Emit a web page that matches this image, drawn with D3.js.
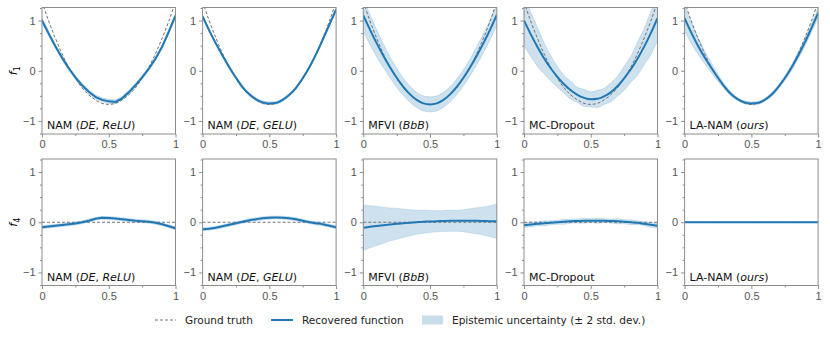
<!DOCTYPE html>
<html>
<head>
<meta charset="utf-8">
<script src="https://cdn.jsdelivr.net/npm/d3@7"></script>
<style>
  body { margin: 0; background: #fff; }
  svg { font-family: 'DejaVu Sans', sans-serif; }
  .spine { fill: none; stroke: #8c8c8c; stroke-width: 1; }
  .tick line { stroke: #8c8c8c; }
  .tick text { fill: #555; font-size: 11px; }
  .domain { display: none; }
  .path-truth { fill: none; stroke: #707070; stroke-width: 1; stroke-dasharray: 3,2; }
  .path-mean { fill: none; stroke: #1f77b4; stroke-width: 2; }
  .path-band { fill: #1f77b4; fill-opacity: 0.22; stroke: #1f77b4; stroke-opacity: 0.2; stroke-width: 0.8; }
  .panel-label { font-size: 11px; fill: #111; }
  .legend-text { font-size: 10.5px; fill: #222; }
</style>
</head>
<body>
<div id="chart"></div>
<script>
// Sample positions shared by every curve
const xGrid = [0, 0.05, 0.1, 0.15, 0.2, 0.25, 0.3, 0.35, 0.4, 0.45, 0.5, 0.55, 0.6, 0.65, 0.7, 0.75, 0.8, 0.85, 0.9, 0.95, 1]

// Method names as [text, italic] pieces
const methods = [
  [['NAM (', false], ['DE', true], [', ', false], ['ReLU', true], [')', false]],
  [['NAM (', false], ['DE', true], [', ', false], ['GELU', true], [')', false]],
  [['MFVI (', false], ['BbB', true], [')', false]],
  [['MC-Dropout', false]],
  [['LA-NAM (', false], ['ours', true], [')', false]]
]
const rowLabels = ['1', '4']
const xTicks = [0, 0.5, 1]
const yTicks = [-1, 0, 1]

// Ground truth shape functions
const truthF1 = [1.38, 0.99, 0.65, 0.34, 0.07, -0.15, -0.34, -0.48, -0.58, -0.65, -0.67, -0.65, -0.58, -0.48, -0.34, -0.15, 0.07, 0.34, 0.65, 0.99, 1.38]
const truthF4 = [0, 0, 0, 0, 0, 0, 0, 0, 0, 0, 0, 0, 0, 0, 0, 0, 0, 0, 0, 0, 0]

// Recovered f1, one array per method
const meanF1ReLU = [1.0, 0.74, 0.49, 0.26, 0.05, -0.13, -0.29, -0.42, -0.52, -0.58, -0.61, -0.62, -0.55, -0.43, -0.29, -0.13, 0.04, 0.24, 0.48, 0.78, 1.1]
const meanF1GELU = [1.08, 0.8, 0.54, 0.3, 0.07, -0.14, -0.33, -0.47, -0.57, -0.63, -0.65, -0.64, -0.58, -0.48, -0.34, -0.15, 0.07, 0.33, 0.62, 0.92, 1.22]
const meanF1MFVI = [1.1, 0.82, 0.55, 0.3, 0.07, -0.14, -0.32, -0.47, -0.58, -0.65, -0.67, -0.65, -0.58, -0.47, -0.32, -0.14, 0.07, 0.3, 0.55, 0.82, 1.11]
const meanF1Drop = [1.0, 0.73, 0.48, 0.25, 0.05, -0.12, -0.27, -0.39, -0.48, -0.54, -0.57, -0.56, -0.51, -0.43, -0.31, -0.15, 0.03, 0.24, 0.48, 0.75, 1.05]
const meanF1LA = [1.05, 0.76, 0.5, 0.27, 0.06, -0.14, -0.32, -0.47, -0.57, -0.63, -0.65, -0.64, -0.58, -0.48, -0.33, -0.15, 0.06, 0.3, 0.56, 0.85, 1.15]

// Half width of the +-2 std. dev. band for f1
const bandF1ReLU = [0.05, 0.05, 0.04, 0.04, 0.04, 0.04, 0.04, 0.04, 0.04, 0.04, 0.04, 0.04, 0.04, 0.04, 0.04, 0.04, 0.04, 0.04, 0.04, 0.05, 0.05]
const bandF1GELU = [0.03, 0.03, 0.03, 0.03, 0.03, 0.03, 0.03, 0.03, 0.03, 0.03, 0.03, 0.03, 0.03, 0.03, 0.03, 0.03, 0.03, 0.03, 0.03, 0.03, 0.03]
const bandF1MFVI = [0.32, 0.3, 0.27, 0.24, 0.21, 0.19, 0.17, 0.16, 0.15, 0.15, 0.15, 0.15, 0.15, 0.15, 0.16, 0.16, 0.17, 0.18, 0.19, 0.2, 0.21]
const bandF1Drop = [0.5, 0.44, 0.39, 0.31, 0.25, 0.21, 0.18, 0.18, 0.15, 0.17, 0.15, 0.17, 0.16, 0.19, 0.2, 0.24, 0.26, 0.33, 0.36, 0.43, 0.45]
const bandF1LA = [0.27, 0.21, 0.17, 0.13, 0.1, 0.07, 0.05, 0.04, 0.03, 0.03, 0.03, 0.03, 0.03, 0.04, 0.04, 0.05, 0.06, 0.07, 0.08, 0.09, 0.1]

// Recovered f4
const meanF4ReLU = [-0.1, -0.085, -0.07, -0.055, -0.04, -0.025, 0.0, 0.03, 0.07, 0.09, 0.085, 0.075, 0.06, 0.045, 0.03, 0.02, 0.01, -0.01, -0.04, -0.08, -0.12]
const meanF4GELU = [-0.14, -0.13, -0.11, -0.08, -0.05, -0.02, 0.01, 0.04, 0.06, 0.08, 0.09, 0.095, 0.09, 0.08, 0.06, 0.03, 0.0, -0.02, -0.04, -0.07, -0.1]
const meanF4MFVI = [-0.11, -0.09, -0.075, -0.06, -0.045, -0.03, -0.02, -0.01, 0.0, 0.01, 0.015, 0.02, 0.025, 0.03, 0.03, 0.03, 0.03, 0.03, 0.025, 0.02, 0.02]
const meanF4Drop = [-0.06, -0.045, -0.03, -0.02, -0.01, 0.0, 0.01, 0.02, 0.025, 0.03, 0.03, 0.03, 0.03, 0.025, 0.02, 0.01, 0.0, -0.01, -0.03, -0.05, -0.07]
const meanF4LA = [0, 0, 0, 0, 0, 0, 0, 0, 0, 0, 0, 0, 0, 0, 0, 0, 0, 0, 0, 0, 0]

const bandF4ReLU = [0.03, 0.03, 0.03, 0.03, 0.03, 0.03, 0.03, 0.03, 0.03, 0.03, 0.03, 0.03, 0.03, 0.03, 0.03, 0.03, 0.03, 0.03, 0.03, 0.03, 0.03]
const bandF4GELU = [0.03, 0.03, 0.03, 0.03, 0.03, 0.03, 0.03, 0.03, 0.03, 0.03, 0.03, 0.03, 0.03, 0.03, 0.03, 0.03, 0.03, 0.03, 0.03, 0.03, 0.03]
const bandF4MFVI = [0.45, 0.42, 0.39, 0.36, 0.33, 0.31, 0.28, 0.26, 0.24, 0.23, 0.22, 0.21, 0.21, 0.21, 0.21, 0.22, 0.24, 0.26, 0.28, 0.31, 0.34]
const bandF4Drop = [0.04, 0.05, 0.04, 0.05, 0.04, 0.04, 0.05, 0.04, 0.04, 0.05, 0.04, 0.05, 0.04, 0.04, 0.05, 0.04, 0.05, 0.04, 0.04, 0.05, 0.04]
const bandF4LA = [0.005, 0.005, 0.005, 0.005, 0.005, 0.005, 0.005, 0.005, 0.005, 0.005, 0.005, 0.005, 0.005, 0.005, 0.005, 0.005, 0.005, 0.005, 0.005, 0.005, 0.005]

const rows = [
  { truth: truthF1, means: [meanF1ReLU, meanF1GELU, meanF1MFVI, meanF1Drop, meanF1LA], bands: [bandF1ReLU, bandF1GELU, bandF1MFVI, bandF1Drop, bandF1LA] },
  { truth: truthF4, means: [meanF4ReLU, meanF4GELU, meanF4MFVI, meanF4Drop, meanF4LA], bands: [bandF4ReLU, bandF4GELU, bandF4MFVI, bandF4Drop, bandF4LA] }
]

const legendItems = ['Ground truth', 'Recovered function', 'Epistemic uncertainty (± 2 std. dev.)']

// Layout
const width = 830
const height = 339
const panelW = 133.5
const panelH = 126.5
const panelLefts = [42, 202.6, 363.3, 524, 684.6]
const rowTops = [7.5, 159]

const svg = d3.select('#chart')
  .append('svg')
  .attr('width', width)
  .attr('height', height)

const xScale = d3.scaleLinear().domain([0, 1]).range([0, panelW])
const yScale = d3.scaleLinear().domain([-1.26, 1.26]).range([panelH, 0])

const line = d3.line()
  .x((d, i) => xScale(xGrid[i]))
  .y(d => yScale(d))

rows.forEach((row, r) => {
  row.means.forEach((mean, c) => {
    const band = row.bands[c]
    const g = svg.append('g')
      .attr('transform', `translate(${panelLefts[c]}, ${rowTops[r]})`)

    const clipId = `clip_${r}_${c}`
    g.append('clipPath')
      .attr('id', clipId)
      .append('rect')
      .attr('width', panelW)
      .attr('height', panelH)

    const plot = g.append('g').attr('clip-path', `url(#${clipId})`)
    const curve = c === 0 ? d3.curveLinear : d3.curveMonotoneX

    // Uncertainty band
    const area = d3.area()
      .x((d, i) => xScale(xGrid[i]))
      .y0((d, i) => yScale(d - band[i]))
      .y1((d, i) => yScale(d + band[i]))
      .curve(curve)

    plot.append('path')
      .datum(mean)
      .attr('class', 'path-band')
      .attr('d', area)

    // Ground truth
    plot.append('path')
      .datum(row.truth)
      .attr('class', 'path-truth')
      .attr('d', line.curve(d3.curveMonotoneX))

    // Recovered mean
    plot.append('path')
      .datum(mean)
      .attr('class', 'path-mean')
      .attr('d', line.curve(curve))

    // Axes with minor ticks
    g.append('g')
      .attr('transform', `translate(0, ${panelH})`)
      .call(d3.axisBottom(xScale).tickValues([0.25, 0.75]).tickSize(2).tickFormat(''))
    g.append('g')
      .attr('transform', `translate(0, ${panelH})`)
      .call(d3.axisBottom(xScale).tickValues(xTicks).tickSize(3.5).tickPadding(3).tickFormat(d3.format('')))

    g.append('g')
      .call(d3.axisLeft(yScale).tickValues([-1.25, -0.75, -0.5, -0.25, 0.25, 0.5, 0.75, 1.25]).tickSize(2).tickFormat(''))
    g.append('g')
      .call(d3.axisLeft(yScale).tickValues(yTicks).tickSize(3.5).tickPadding(3).tickFormat(d3.format('')))

    g.append('rect')
      .attr('class', 'spine')
      .attr('width', panelW)
      .attr('height', panelH)

    // Method name in the lower left corner
    const label = g.append('text')
      .attr('class', 'panel-label')
      .attr('x', 5)
      .attr('y', panelH - 5)
    methods[c].forEach(([txt, italic]) => {
      label.append('tspan')
        .attr('font-style', italic ? 'italic' : 'normal')
        .text(txt)
    })
  })

  // Row label f_k
  const rowLabel = svg.append('text')
    .attr('transform', `translate(17, ${rowTops[r] + yScale(0)}) rotate(-90)`)
    .attr('text-anchor', 'middle')
    .attr('font-size', 11)
  rowLabel.append('tspan').attr('font-style', 'italic').text('f')
  rowLabel.append('tspan').attr('font-size', 8).attr('dy', 3).text(rowLabels[r])
})

//===========================================================================
// Legend
const legend = svg.append('g').attr('transform', 'translate(0, 320)')

legend.append('line')
  .attr('class', 'path-truth')
  .attr('x1', 155).attr('x2', 176)

legend.append('line')
  .attr('class', 'path-mean')
  .attr('x1', 271).attr('x2', 293)

legend.append('rect')
  .attr('x', 422).attr('y', -4.5)
  .attr('width', 21).attr('height', 9)
  .attr('fill', '#1f77b4').attr('fill-opacity', 0.25)

const legendX = [185, 302, 452]
legendItems.forEach((txt, i) => {
  legend.append('text')
    .attr('class', 'legend-text')
    .attr('x', legendX[i])
    .attr('y', 4)
    .text(txt)
})
</script>
</body>
</html>
